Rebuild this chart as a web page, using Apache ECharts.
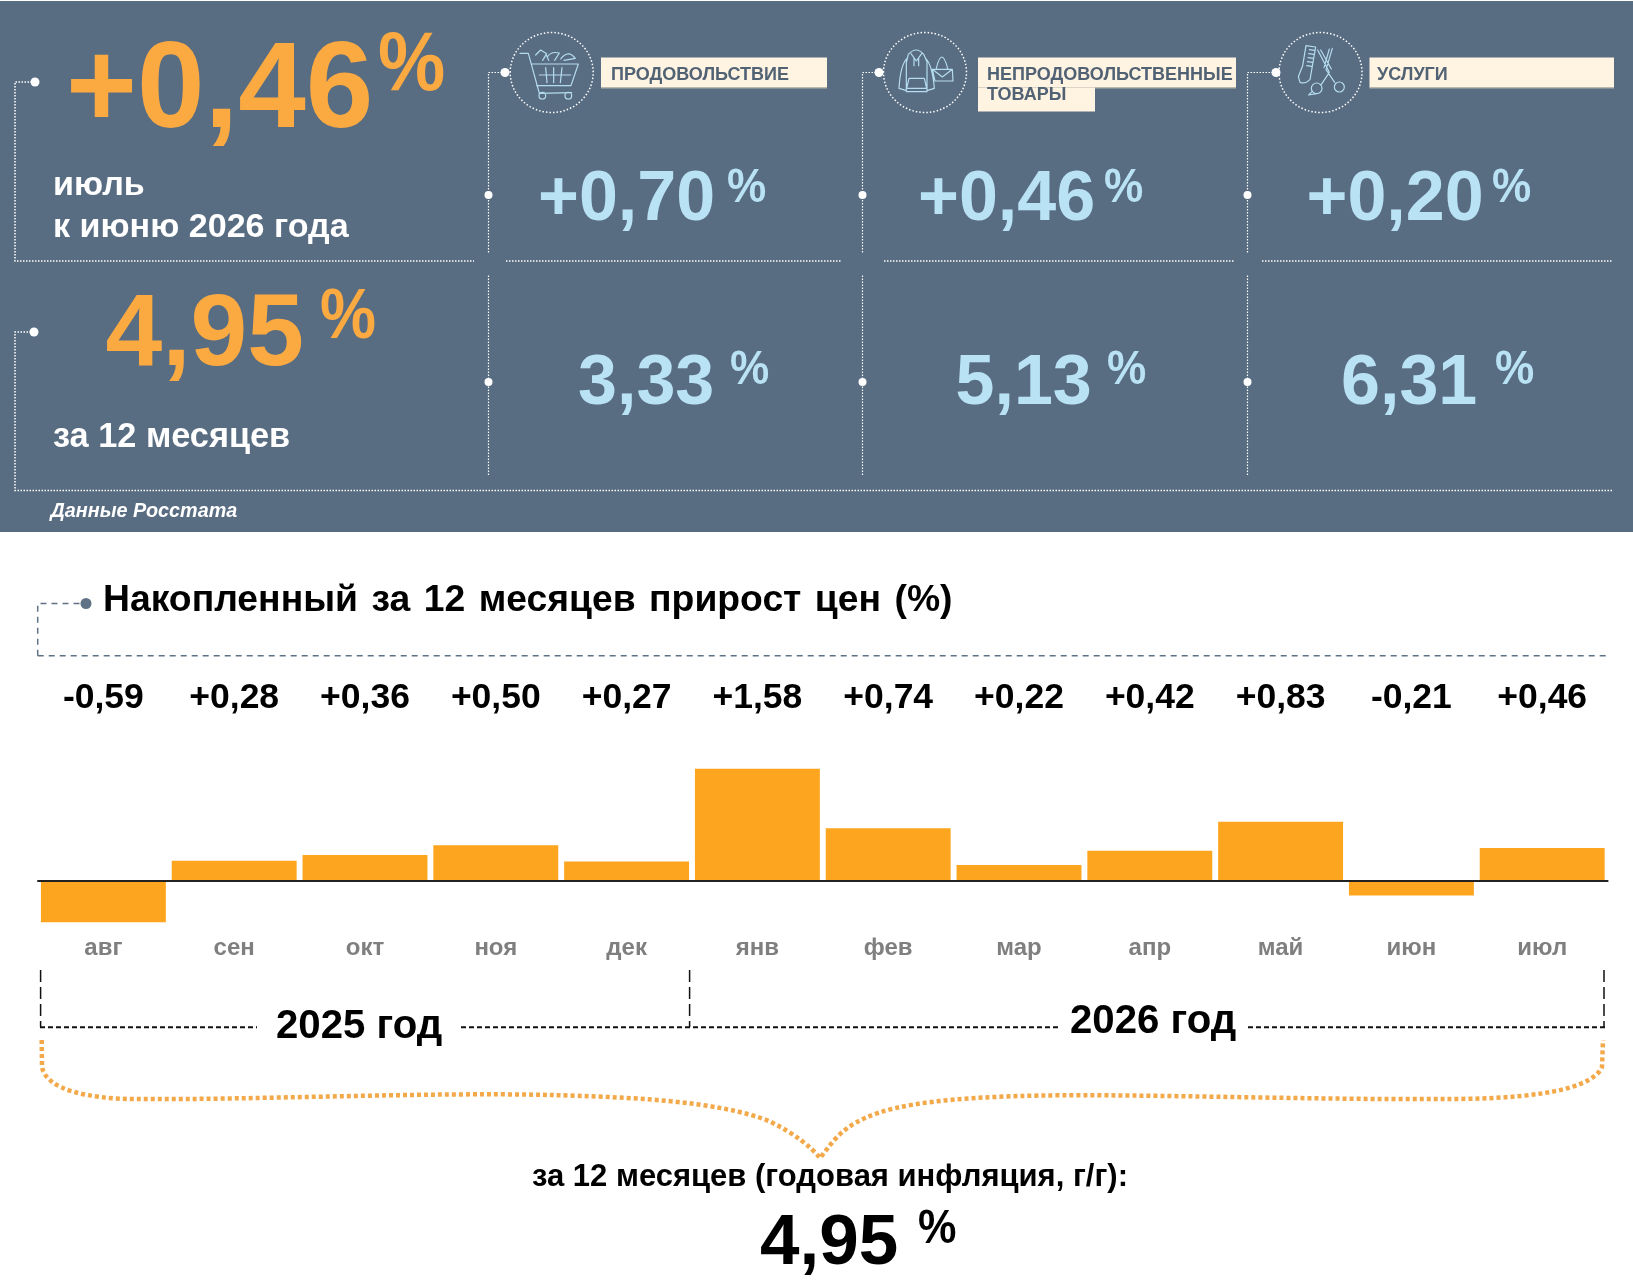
<!DOCTYPE html>
<html><head><meta charset="utf-8">
<script src="https://cdn.jsdelivr.net/npm/echarts@6/dist/echarts.min.js"></script>
<style>html,body{margin:0;padding:0;background:#fff}#c{width:1633px;height:1285px}</style>
</head><body><div id="c"></div>
<script>
const months = ['авг','сен','окт','ноя','дек','янв','фев','мар','апр','май','июн','июл'];
const monthlyChange = [-0.59,0.28,0.36,0.50,0.27,1.58,0.74,0.22,0.42,0.83,-0.21,0.46];
const headlineMonth = '+0,46';
const headlineYear = '4,95';
const categoryNames = ['ПРОДОВОЛЬСТВИЕ','НЕПРОДОВОЛЬСТВЕННЫЕ','УСЛУГИ'];
const categoryMonth = ['+0,70','+0,46','+0,20'];
const categoryYear = ['3,33','5,13','6,31'];

const FONT = '"Liberation Sans", Arial, sans-serif';
const PANEL='#586c82', ORANGE='#fbaa42', BLUE='#b9e2f4', CREAM='#fff3e2', WHITE='#ffffff', BAR='#fda51e', ICON='#b5dcee';
const g = [];
function T(text,x,y,size,fill,o){o=o||{};g.push({type:'text',x:x,y:y+0.085*size,scaleX:o.sx||1,z:o.z||10,style:{text:text,fill:fill,font:(o.italic?'italic ':'')+(o.weight||'bold')+' '+size+'px '+FONT,textAlign:o.align||'left',verticalAlign:'middle'}});}
function L(pts,color,w,dash){g.push({type:'polyline',z:5,shape:{points:pts},style:{stroke:color,lineWidth:w,lineDash:dash||null,fill:null}});}
function R(x,y,w,h,fill,z){g.push({type:'rect',z:z||1,shape:{x:x,y:y,width:w,height:h},style:{fill:fill}});}
function D(x,y,r,fill){g.push({type:'circle',z:6,shape:{cx:x,cy:y,r:r},style:{fill:fill||WHITE}});}
let shapeNo=0;
function P(d,props,style,z){const name='decor'+(shapeNo++);echarts.graphic.registerShape(name,echarts.graphic.extendPath(d));g.push(Object.assign({type:name,z:z||6,style:style},props));}

// dark panel
R(0,1,1633,531,PANEL,0);

// dotted frame
const dot=[1.5,1.5];
L([[35,82],[15,82],[15,261],[474,261]],WHITE,1.5,dot); D(35,82,4.5);
L([[34,332],[15,332],[15,490.5],[1613,490.5]],WHITE,1.5,dot); D(34,332,4.5);
const colX=[488.5,862.5,1247.5], dotX=[505,879,1276], hA=[506,884,1262], hB=[842,1235,1613];
colX.forEach((x,i)=>{
  L([[dotX[i],72.5],[x,72.5],[x,253]],WHITE,1.2,dot);
  L([[x,275.5],[x,476]],WHITE,1.2,dot);
  D(dotX[i],72.5,4.5); D(x,195,4); D(x,382,4);
  L([[hA[i],261],[hB[i],261]],WHITE,1.5,dot);
});

// icon circles
[551.7,925,1320.5].forEach(cx=>g.push({type:'ellipse',z:5,shape:{cx:cx,cy:72.5,rx:41.5,ry:40},style:{stroke:WHITE,lineWidth:1.5,lineDash:[1.5,2],fill:null}}));

// icons (drawn in 3x space of a 110x100 box)
function icon(ox,oy,d){P(d,{x:ox,y:oy,scaleX:1/3,scaleY:1/3},{stroke:ICON,lineWidth:3.6,fill:null,lineJoin:'round',lineCap:'round'});}
icon(500,25,'M60 85 L85 85 L118 205 L215 203 M94 117 L235 117 L213 182 L110 182 M118 150 L212 150 M137 128 L141 173 M161 128 L161 173 M186 128 L181 173 M137 212 A10 10 0 1 1 117 212 A10 10 0 1 1 137 212 M215 212 A10 10 0 1 1 195 212 A10 10 0 1 1 215 212 M107 90 L122 75 L140 86 L128 106 M142 96 Q152 78 178 84 L164 106 M146 106 L140 92 M182 102 Q205 72 226 100 L192 106');
icon(875,25,'M100 88 Q124 62 146 88 L156 110 L156 200 L94 200 L94 112 Z M96 100 Q76 120 72 190 L92 196 M152 100 Q172 120 178 190 L158 196 M108 86 L124 108 L140 86 M117 100 L117 122 M131 100 L131 122 M102 160 L148 160 L155 190 L95 190 Z M172 133 L232 133 L234 168 L180 168 Z M184 130 Q200 62 218 130 M172 133 L202 156 L232 133');
icon(1270,25,'M108 62 L137 66 L120 164 Q106 178 90 172 L85 155 L98 122 Z M118 74 L134 76 M116 86 L132 88 M114 98 L130 100 M112 110 L128 112 M110 122 L125 124 M143 75 L178 142 L154 178 M152 75 L184 132 M187 70 L168 134 L194 172 M178 72 L162 128 M156 190 A16 16 0 1 1 124 190 A16 16 0 1 1 156 190 M223 186 A15 15 0 1 1 193 186 A15 15 0 1 1 223 186 M126 200 L116 210 L140 206');

// category labels
R(601,57.5,226,30,CREAM,2); R(601,87,226,1.5,'#b9b6ad',2);
R(978,57.5,258,30,CREAM,2); R(978,87,258,1.5,'#b9b6ad',2); R(978,87.5,117,24,CREAM,3);
R(1369.5,57.5,244.5,30,CREAM,2); R(1369.5,87,244.5,1.5,'#b9b6ad',2);
const catLabelX=[611,987,1377];
categoryNames.forEach((n,i)=>T(n,catLabelX[i],73.5,18,'#506274'));
T('ТОВАРЫ',987,93.5,18,'#506274');

// headline numbers
T(headlineMonth,66,83.3,121.5,ORANGE);
T('%',378,60,84,ORANGE,{sx:0.9});
T('июль',53,183,34.1,WHITE);
T('к июню 2026 года',53,225,34.1,WHITE);
T(headlineYear,105.5,328.5,102,ORANGE);
T('%',320,313,70,ORANGE,{sx:0.9});
T('за 12 месяцев',53,435,34.3,WHITE);
T('Данные Росстата',50.5,510,19.8,WHITE,{italic:true});

const mX=[538,918,1306.5], mP=[727,1104,1492];
const yX=[578,955.5,1341], yP=[730,1107,1495];
categoryMonth.forEach((v,i)=>{T(v,mX[i],194.5,70,BLUE);T('%',mP[i],185,48,BLUE,{sx:0.92});});
categoryYear.forEach((v,i)=>{T(v,yX[i],379,70,BLUE);T('%',yP[i],367,48,BLUE,{sx:0.92});});

// title
L([[37.7,655.7],[37.7,603.5],[86,603.5]],'#5f7286',1.5,[6,5]);
L([[37.7,655.7],[1606,655.7]],'#5f7286',1.5,[6,5]);
D(86,603.5,5.5,'#5f7286');
T('Накопленный \u200aза \u200a12 \u200aмесяцев \u200aприрост \u200aцен \u200a(%)',103,598,37.3,'#000');

// year brackets
const bk='#111';
L([[40.6,970],[40.6,1027]],bk,1.5,[12,5]); L([[689.6,970],[689.6,1027]],bk,1.5,[12,5]); L([[1604,970],[1604,1027]],bk,1.5,[12,5]);
L([[40,1027.3],[257,1027.3]],bk,2,[5,3]); L([[461,1027.3],[1060,1027.3]],bk,2,[5,3]); L([[1248,1027.3],[1605,1027.3]],bk,2,[5,3]);
T('2025 год',276,1023,40.2,'#000'); T('2026 год',1070,1018,40.2,'#000');

// curly brace
P('M41.7 1040 L42 1067 C46 1090 90 1099 135 1099 C260 1100 420 1092 552 1095 C620 1097 720 1100 771 1122 C795 1134 810 1146 820 1158 C830 1146 838 1130 865 1118 C900 1102 960 1098 1020 1096 C1120 1093 1300 1100 1448 1099 C1510 1099 1590 1094 1602 1067 L1603 1040',{},{stroke:'#f3a949',lineWidth:4.5,lineDash:[4,3],fill:null},5);

T('за 12 месяцев (годовая инфляция, г/г):',532,1175,31,'#000');
T(headlineYear,760,1238,71,'#000');
T('%',918,1226,48,'#000',{sx:0.9});

const fmt=v=>(v>0?'+':'')+v.toFixed(2).replace('.',',');
const chart=echarts.init(document.getElementById('c'),null,{renderer:'canvas'});
chart.setOption({
  animation:false,
  backgroundColor:'#fff',
  grid:{left:38,top:739,width:1569.6,height:212.4,containLabel:false},
  xAxis:[
    {type:'category',data:months,z:5,axisLine:{onZero:true,lineStyle:{color:'#222',width:2}},axisTick:{show:false},
     axisLabel:{interval:0,margin:-15,fontFamily:FONT,fontWeight:'bold',fontSize:24,color:'#7f7f7f',verticalAlign:'top',lineHeight:24}},
    {type:'category',position:'top',data:months,axisLine:{show:false,onZero:false},axisTick:{show:false},
     axisLabel:{interval:0,margin:23,fontFamily:FONT,fontWeight:'bold',fontSize:35.5,color:'#000',formatter:(v,i)=>fmt(monthlyChange[i])}}
  ],
  yAxis:{type:'value',min:-1,max:2,interval:1,show:false},
  series:[{type:'bar',xAxisIndex:0,data:monthlyChange,barWidth:'95.5%',itemStyle:{color:BAR}}],
  graphic:{elements:g}
});
</script></body></html>
